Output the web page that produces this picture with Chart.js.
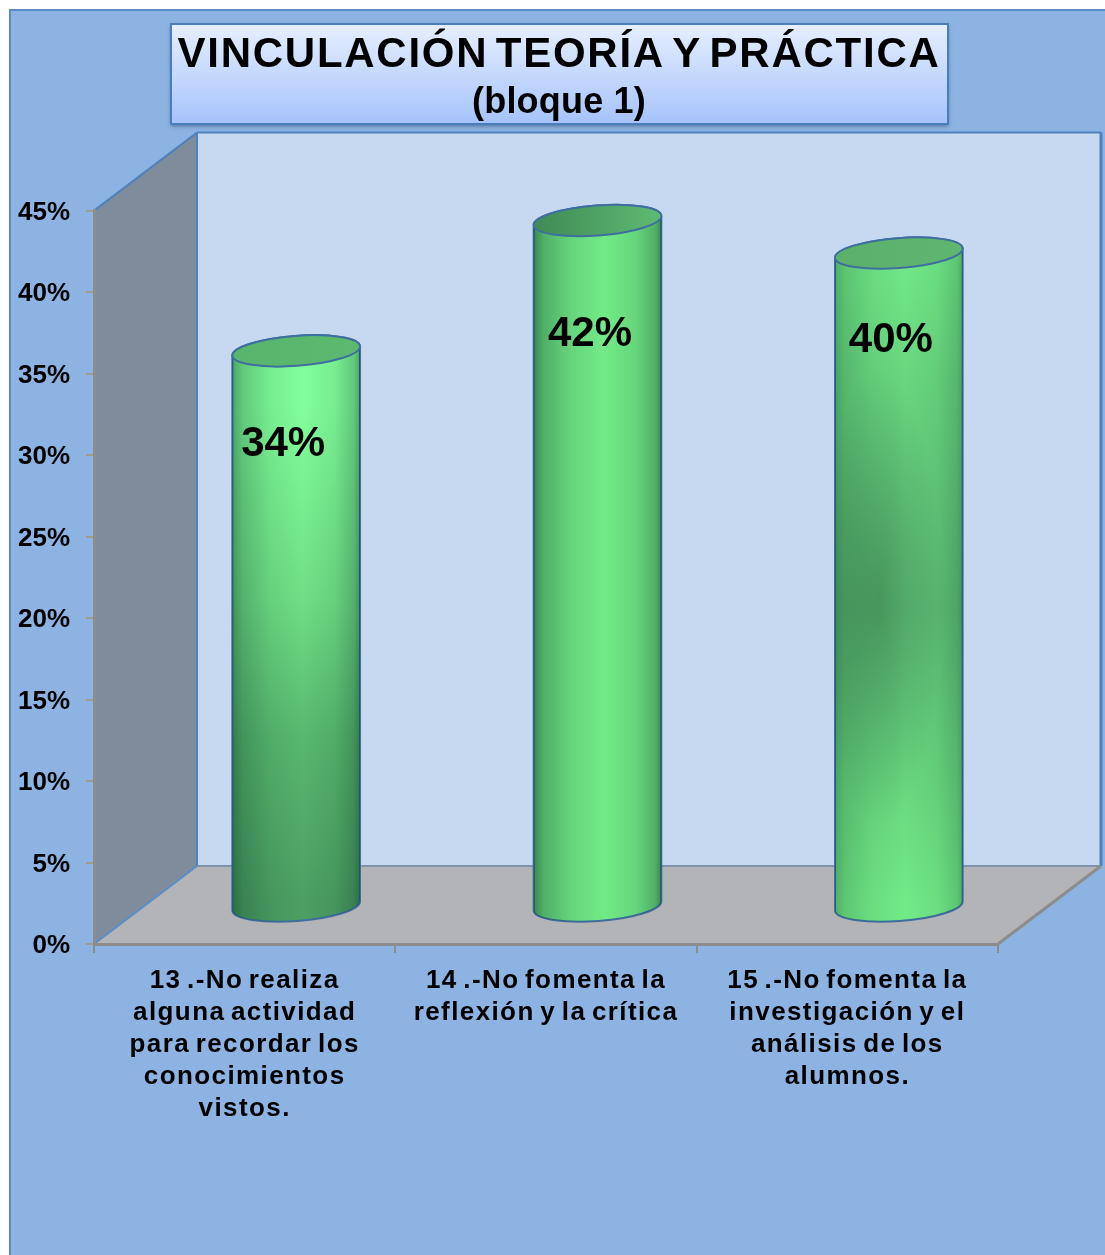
<!DOCTYPE html>
<html>
<head>
<meta charset="utf-8">
<title>Vinculación teoría y práctica</title>
<script src="https://cdn.jsdelivr.net/npm/chart.js@4/dist/chart.umd.min.js"></script>
<style>
    html, body { margin: 0; padding: 0; background: #fff; overflow: hidden; }
    #panel {
        position: absolute; left: 9px; top: 9px; width: 1096px; height: 1246px;
        background: #8db3e2; border-left: 2px solid #5b8cc8; border-top: 2px solid #5b8cc8;
        box-sizing: border-box;
    }
    #chart { position: absolute; left: 0; top: 0; }
</style>
</head>
<body>
<div id="panel"></div>
<canvas id="chart" width="1105" height="1255"></canvas>
<script>
    var titleText = 'VINCULACIÓN TEORÍA Y PRÁCTICA';
    var subtitleText = '(bloque 1)';
    var categories = [
        ['13 .-No realiza', 'alguna actividad', 'para recordar los', 'conocimientos', 'vistos.'],
        ['14 .-No fomenta la', 'reflexión y la crítica'],
        ['15 .-No fomenta la', 'investigación y el', 'análisis de los', 'alumnos.']
    ];
    var values = [34, 42, 40];
    var yTicksMax = 45;
    var yTickStep = 5;

    // 3D look
    var depthX = 103;
    var depthY = -78;
    var labelFont = '"Liberation Sans", Arial, sans-serif';

    // Body colours for each cylinder, top to bottom
    var barCenter = [
        [[0, '#82ff9b'], [0.1, '#82ff9b'], [0.45, '#6fdf86'], [0.7, '#58b86e'], [1, '#4c9f63']],
        [[0, '#72ea87'], [1, '#72ea87']],
        [[0, '#72ea87'], [0.2, '#68d67f'], [0.55, '#5fbf75'], [0.75, '#66d27d'], [1, '#72ea87']]
    ];
    var barCap = [['#58b56c', '#5cba70'], ['#3f8a55', '#5fbb73'], ['#5bb16c', '#5fb670']];
    var barEdge = [0.42, 0.5, 0.3];

    function polygon(ctx, points, fill) {
        ctx.beginPath();
        points.forEach(function(p, i) {
            if (i === 0) {
                ctx.moveTo(p[0], p[1]);
            } else {
                ctx.lineTo(p[0], p[1]);
            }
        });
        ctx.closePath();
        ctx.fillStyle = fill;
        ctx.fill();
    }

    function line(ctx, x1, y1, x2, y2, color, width) {
        ctx.beginPath();
        ctx.moveTo(x1, y1);
        ctx.lineTo(x2, y2);
        ctx.strokeStyle = color;
        ctx.lineWidth = width;
        ctx.stroke();
    }

    /**
     * Run one draw method of a chart part with its own text tracking
     */
    function withTracking(part, method, letter, word) {
        var original = part[method];
        part[method] = function(arg) {
            var ctx = part.ctx;
            ctx.save();
            ctx.letterSpacing = letter;
            ctx.wordSpacing = word;
            original.call(part, arg);
            ctx.restore();
        };
        part.tracked = true;
    }

    /**
     * Title box, walls and floor go under everything else
     */
    var backdrop = {
        id: 'backdrop',
        afterLayout: function(chart) {
            // Title is centred on its box, not on the plot
            chart.boxes.forEach(function(box) {
                if (box.options && box.options.text) {
                    box.left = 0;
                    box.right = 1118;
                    if (!box.tracked) {
                        if (box.options.text === titleText) {
                            withTracking(box, 'draw', '1.75px', '-6px');
                        } else {
                            withTracking(box, 'draw', '0.2px', '0px');
                        }
                    }
                }
            });
            if (!chart.scales.x.tracked) {
                withTracking(chart.scales.x, 'drawLabels', '1.4px', '-3px');
            }
        },
        beforeDraw: function(chart) {
            var ctx = chart.ctx;
            var a = chart.chartArea;

            ctx.save();
            var box = ctx.createLinearGradient(0, 24, 0, 124);
            box.addColorStop(0, '#e6efff');
            box.addColorStop(0.5, '#c6d9fd');
            box.addColorStop(1, '#a5c3fb');
            ctx.shadowColor = 'rgba(30,50,90,0.55)';
            ctx.shadowBlur = 4;
            ctx.shadowOffsetY = 2;
            ctx.fillStyle = box;
            ctx.fillRect(171, 24, 777, 100);
            ctx.restore();
            ctx.save();
            ctx.strokeStyle = '#4a7ebb';
            ctx.lineWidth = 2;
            ctx.strokeRect(171, 24, 777, 100);

            // back wall
            polygon(ctx, [
                [a.left + depthX, a.top + depthY], [a.right + depthX, a.top + depthY],
                [a.right + depthX, a.bottom + depthY], [a.left + depthX, a.bottom + depthY]
            ], '#c6d9f1');
            // side wall
            polygon(ctx, [
                [a.left, a.top], [a.left + depthX, a.top + depthY],
                [a.left + depthX, a.bottom + depthY], [a.left, a.bottom]
            ], '#7f8c9b');
            // floor
            polygon(ctx, [
                [a.left, a.bottom], [a.left + depthX, a.bottom + depthY],
                [a.right + depthX, a.bottom + depthY], [a.right, a.bottom]
            ], '#b2b4b8');

            line(ctx, a.left, a.top, a.left + depthX, a.top + depthY, '#4f81bd', 2);
            line(ctx, a.left + depthX, a.top + depthY, a.right + depthX, a.top + depthY, '#4f81bd', 2);
            line(ctx, a.left + depthX, a.top + depthY, a.left + depthX, a.bottom + depthY, '#4f81bd', 2);
            line(ctx, a.right + depthX, a.top + depthY, a.right + depthX, a.bottom + depthY, '#4f81bd', 3);
            line(ctx, a.left + depthX, a.bottom + depthY, a.right + depthX, a.bottom + depthY, '#7f93ae', 2);
            line(ctx, a.left, a.bottom, a.left + depthX, a.bottom + depthY, '#5b8cc8', 2);
            line(ctx, a.right, a.bottom, a.right + depthX, a.bottom + depthY, '#8c8c8c', 3);
            ctx.restore();
        }
    };

    /**
     * Draw the bar elements as cylinders standing mid way in the depth
     */
    var cylinders = {
        id: 'cylinders',
        beforeDatasetsDraw: function(chart) {
            var ctx = chart.ctx;
            var rot = -0.075;
            var ry = 15;

            chart.getDatasetMeta(0).data.forEach(function(el, i) {
                var cx = el.x + depthX / 2;
                var top = el.y + depthY / 2;
                var bottom = el.base + depthY / 2;
                var rx = el.width / 2;

                ctx.save();
                ctx.beginPath();
                ctx.ellipse(cx, bottom + 2, rx, ry, rot, 0, Math.PI);
                ctx.ellipse(cx, top, rx, ry, rot, Math.PI, Math.PI * 2);
                ctx.closePath();

                var body = ctx.createLinearGradient(0, top, 0, bottom);
                barCenter[i].forEach(function(stop) {
                    body.addColorStop(stop[0], stop[1]);
                });
                ctx.fillStyle = body;
                ctx.fill();
                ctx.strokeStyle = '#3f6f9f';
                ctx.lineWidth = 2;
                ctx.stroke();

                ctx.clip();

                // soft dark patch on the third column
                if (i === 2) {
                    ctx.save();
                    ctx.translate(cx - 20, top + 0.53 * (bottom - top));
                    ctx.scale(1, 3.5);
                    var patch = ctx.createRadialGradient(0, 0, 0, 0, 0, 65);
                    patch.addColorStop(0, 'rgba(50,110,70,0.45)');
                    patch.addColorStop(1, 'rgba(50,110,70,0)');
                    ctx.fillStyle = patch;
                    ctx.fillRect(-100, -100, 200, 200);
                    ctx.restore();
                }

                var k = barEdge[i];
                var edge = ctx.createLinearGradient(cx - rx, 0, cx + rx, 0);
                edge.addColorStop(0, 'rgba(0,40,30,' + k + ')');
                edge.addColorStop(0.08, 'rgba(0,40,30,' + (k * 0.6) + ')');
                edge.addColorStop(0.3, 'rgba(0,40,30,' + (k * 0.2) + ')');
                edge.addColorStop(0.55, 'rgba(0,40,30,0)');
                edge.addColorStop(0.8, 'rgba(0,40,30,' + (k * 0.2) + ')');
                edge.addColorStop(0.95, 'rgba(0,40,30,' + (k * 0.6) + ')');
                edge.addColorStop(1, 'rgba(0,40,30,' + k + ')');
                ctx.fillStyle = edge;
                ctx.fillRect(cx - rx - 2, top - ry - 4, el.width + 4, bottom - top + ry * 2 + 8);
                ctx.restore();

                ctx.save();
                var cap = ctx.createLinearGradient(cx - rx, 0, cx + rx, 0);
                cap.addColorStop(0, barCap[i][0]);
                cap.addColorStop(1, barCap[i][1]);
                ctx.beginPath();
                ctx.ellipse(cx, top, rx, ry, rot, 0, Math.PI * 2);
                ctx.fillStyle = cap;
                ctx.fill();
                ctx.strokeStyle = '#3f6f9f';
                ctx.lineWidth = 2;
                ctx.stroke();
                ctx.restore();
            });
            return false;
        },
        afterDraw: function(chart) {
            var ctx = chart.ctx;
            var drop = [94, 114, 87];
            var shift = [-13, -7.5, -8];

            ctx.save();
            ctx.font = 'bold 42px ' + labelFont;
            ctx.fillStyle = '#000';
            ctx.textAlign = 'center';
            ctx.textBaseline = 'middle';
            chart.getDatasetMeta(0).data.forEach(function(el, i) {
                ctx.fillText(values[i] + '%', el.x + depthX / 2 + shift[i], el.y + depthY / 2 + drop[i]);
            });
            ctx.restore();
        }
    };

    new Chart(document.getElementById('chart'), {
        type: 'bar',
        plugins: [backdrop, cylinders],
        data: {
            labels: categories,
            datasets: [{
                data: values,
                barThickness: 128,
                backgroundColor: '#6fdf86'
            }]
        },
        options: {
            responsive: false,
            animation: false,
            layout: {padding: {left: 0, right: 107, top: 0, bottom: 0}},
            plugins: {
                legend: {display: false},
                tooltip: {enabled: false},
                title: {
                    display: true,
                    text: titleText,
                    color: '#000',
                    font: {family: labelFont, size: 42, weight: 'bold', lineHeight: 1.2},
                    padding: {top: 30, bottom: 1}
                },
                subtitle: {
                    display: true,
                    text: subtitleText,
                    color: '#000',
                    font: {family: labelFont, size: 36, weight: 'bold', lineHeight: 1.2},
                    padding: {top: 0, bottom: 86}
                }
            },
            scales: {
                x: {
                    afterFit: function(scale) {
                        scale.height = 311;
                    },
                    grid: {drawOnChartArea: false, color: '#8c8c8c', tickLength: 9, lineWidth: 2},
                    border: {color: '#8c8c8c', width: 3},
                    ticks: {
                        color: '#000',
                        padding: 12,
                        maxRotation: 0,
                        autoSkip: false,
                        font: {family: labelFont, size: 26, weight: 'bold', lineHeight: 1.23}
                    }
                },
                y: {
                    min: 0,
                    max: yTicksMax,
                    afterFit: function(scale) {
                        scale.width = 94;
                    },
                    grid: {drawOnChartArea: false, color: '#a09a8f', tickLength: 8, lineWidth: 2},
                    border: {color: '#8c8c8c', width: 3},
                    ticks: {
                        stepSize: yTickStep,
                        color: '#000',
                        padding: 16,
                        labelOffset: 2,
                        font: {family: labelFont, size: 26, weight: 'bold'},
                        callback: function(value) {
                            return value + '%';
                        }
                    }
                }
            }
        }
    });
</script>
</body>
</html>
